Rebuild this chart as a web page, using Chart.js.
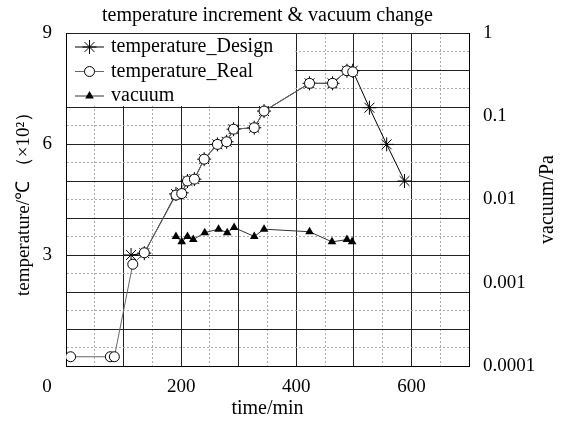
<!DOCTYPE html>
<html>
<head>
<meta charset="utf-8">
<script src="https://cdn.jsdelivr.net/npm/chart.js@4/dist/chart.umd.min.js"></script>
<style>
  html, body { margin: 0; padding: 0; background: #fff; }
</style>
</head>
<body>
<canvas id="chart" width="566" height="421"></canvas>
<script>
const serif = "'Liberation Serif', 'Times New Roman', serif";

// time in min, temperature in x10^2 degC, vacuum in Pa
const designTime = [113, 136, 191, 201, 211, 223, 240, 263, 279, 291, 327, 344, 423, 463, 488, 498, 527, 557, 588];
const designTemp = [3.0, 3.05, 4.65, 4.68, 5.0, 5.05, 5.59, 5.99, 6.06, 6.4, 6.44, 6.89, 7.64, 7.64, 7.98, 7.98, 6.98, 5.99, 5.0];

const realTime = [8, 77, 84, 116, 136, 191, 201, 211, 223, 240, 263, 279, 291, 327, 344, 423, 463, 488, 498];
const realTemp = [0.25, 0.25, 0.25, 2.75, 3.06, 4.62, 4.66, 5.0, 5.05, 5.59, 5.99, 6.06, 6.4, 6.44, 6.89, 7.64, 7.64, 7.98, 7.95];

const vacuumTime = [191, 201, 211, 221, 241, 265, 280, 292, 327, 344, 423, 462, 488, 497];
const vacuumPa = [0.0036, 0.0031, 0.0036, 0.0033, 0.0040, 0.0044, 0.0040, 0.0046, 0.0036, 0.0044, 0.0041, 0.0031, 0.0033, 0.0031];

const xLabels = [200, 400, 600];
const tempLabels = [3, 6, 9];
const vacuumLabels = ['0.0001', '0.001', '0.01', '0.1', '1'];

const pts = (xs, ys) => xs.map((x, i) => ({ x: x, y: ys[i] }));
const font = { family: serif, size: 19 };
const titleFont = { family: serif, size: 20 };
const isMinor = (ctx, step) => ctx.tick && Math.abs(ctx.tick.value / step - Math.round(ctx.tick.value / step)) > 0.01;

function drawMarker(ctx, ds, x, y) {
    const r = ds.pointRadius;
    ctx.lineWidth = 1;
    ctx.strokeStyle = '#000';
    ctx.beginPath();
    if (ds.pointStyle === 'star') {
        for (let a = 0; a < 4; a++) {
            const t = a * Math.PI / 4;
            ctx.moveTo(x - r * Math.cos(t), y - r * Math.sin(t));
            ctx.lineTo(x + r * Math.cos(t), y + r * Math.sin(t));
        }
        ctx.stroke();
    } else if (ds.pointStyle === 'circle') {
        ctx.arc(x, y, r, 0, Math.PI * 2);
        ctx.fillStyle = '#fff';
        ctx.fill();
        ctx.stroke();
    } else {
        ctx.moveTo(x, y - r);
        ctx.lineTo(x + r * 0.866, y + r * 0.5);
        ctx.lineTo(x - r * 0.866, y + r * 0.5);
        ctx.closePath();
        ctx.fillStyle = '#000';
        ctx.fill();
    }
}

const legendBox = {
    id: 'legendBox',
    beforeDatasetsDraw(chart) {
        const { ctx, chartArea, scales } = chart;
        const x1 = chartArea.left + 1;
        const y1 = chartArea.top + 1;
        const x2 = scales.x.getPixelForValue(400) - 1;
        const y2 = scales.y.getPixelForValue(7) - 1;
        ctx.save();
        ctx.fillStyle = '#fff';
        ctx.fillRect(x1, y1, x2 - x1, y2 - y1);
        ctx.font = `20px ${serif}`;
        ctx.textBaseline = 'middle';
        chart.data.datasets.forEach((ds, i) => {
            const cy = chartArea.top + 14 + i * 24.5;
            const lx = chartArea.left + 9;
            ctx.strokeStyle = ds.borderColor;
            ctx.lineWidth = 1;
            ctx.beginPath();
            ctx.moveTo(lx, cy);
            ctx.lineTo(lx + 29, cy);
            ctx.stroke();
            drawMarker(ctx, ds, lx + 14.5, cy);
            ctx.fillStyle = '#000';
            ctx.textAlign = 'left';
            ctx.fillText(ds.label, lx + 36, cy);
        });
        ctx.font = `19px ${serif}`;
        // shared origin label, set off the corner
        ctx.textAlign = 'center';
        ctx.fillText('0', chartArea.left - 19, chartArea.bottom + 21);
        // right axis title reads bottom to top
        ctx.font = `20px ${serif}`;
        ctx.translate(scales.y2.right - 18, (chartArea.top + chartArea.bottom) / 2);
        ctx.rotate(-Math.PI / 2);
        ctx.fillText('vacuum/Pa', 0, 0);
        ctx.restore();
    }
};

new Chart(document.getElementById('chart'), {
    type: 'line',
    data: {
        datasets: [
            {
                label: 'temperature_Design',
                data: pts(designTime, designTemp),
                yAxisID: 'y',
                borderColor: '#000',
                borderWidth: 1,
                pointStyle: 'star',
                pointRadius: 7,
                pointBorderColor: '#000',
                pointBorderWidth: 1,
                order: 2
            },
            {
                label: 'temperature_Real',
                data: pts(realTime, realTemp),
                yAxisID: 'y',
                borderColor: '#666',
                borderWidth: 1,
                pointStyle: 'circle',
                pointRadius: 5,
                pointBackgroundColor: '#fff',
                pointBorderColor: '#000',
                pointBorderWidth: 1,
                order: 1
            },
            {
                label: 'vacuum',
                data: pts(vacuumTime, vacuumPa),
                yAxisID: 'y2',
                borderColor: '#333',
                borderWidth: 1,
                pointStyle: 'triangle',
                pointRadius: 5,
                pointBackgroundColor: '#000',
                pointBorderColor: '#000',
                pointBorderWidth: 0,
                order: 3
            }
        ]
    },
    options: {
        responsive: false,
        animation: false,
        layout: { padding: 0 },
        plugins: {
            legend: { display: false },
            tooltip: { enabled: false },
            title: {
                display: true,
                fullSize: false,
                text: 'temperature increment & vacuum change',
                color: '#000',
                font: { family: serif, size: 20, weight: 'normal' },
                padding: { top: 4, bottom: 5 }
            }
        },
        scales: {
            x: {
                type: 'linear',
                position: 'bottom',
                min: 0,
                max: 700,
                ticks: {
                    stepSize: 50,
                    autoSkip: false,
                    maxRotation: 0,
                    padding: 10,
                    color: '#000',
                    font: font,
                    callback: (v) => xLabels.includes(v) ? String(v) : ''
                },
                grid: {
                    drawTicks: false,
                    color: (ctx) => isMinor(ctx, 100) ? '#aaa' : '#222'
                },
                border: {
                    display: true,
                    color: '#000',
                    dash: (ctx) => isMinor(ctx, 100) ? [2, 2] : []
                },
                title: {
                    display: true,
                    text: 'time/min',
                    color: '#000',
                    font: titleFont,
                    padding: { top: 0, bottom: 0 }
                },
                afterFit: (s) => { s.height = 55; }
            },
            y: {
                position: 'left',
                min: 0,
                max: 9,
                ticks: {
                    stepSize: 0.5,
                    autoSkip: false,
                    padding: 14,
                    color: '#000',
                    font: font,
                    callback: (v) => tempLabels.includes(v) ? String(v) : ''
                },
                grid: {
                    drawTicks: false,
                    color: (ctx) => isMinor(ctx, 1) ? '#aaa' : '#222'
                },
                border: {
                    display: true,
                    color: '#000',
                    dash: (ctx) => isMinor(ctx, 1) ? [2, 2] : []
                },
                title: {
                    display: true,
                    text: 'temperature/\u2103 \uff08\u00d710\u00b2\uff09',
                    color: '#000',
                    font: font,
                    padding: { top: 13 }
                },
                afterFit: (s) => { s.width = 66; }
            },
            y2: {
                type: 'logarithmic',
                position: 'right',
                min: 0.0001,
                max: 1,
                ticks: {
                    autoSkip: false,
                    padding: 14,
                    color: '#000',
                    font: font,
                    callback: (v) => {
                        const e = Math.log10(v);
                        return Math.abs(e - Math.round(e)) < 1e-6 ? vacuumLabels[Math.round(e) + 4] : '';
                    }
                },
                grid: { drawOnChartArea: false, drawTicks: false },
                border: { display: true, color: '#000' },
                afterFit: (s) => { s.width = 97; }
            }
        }
    },
    plugins: [legendBox]
});
</script>
</body>
</html>
